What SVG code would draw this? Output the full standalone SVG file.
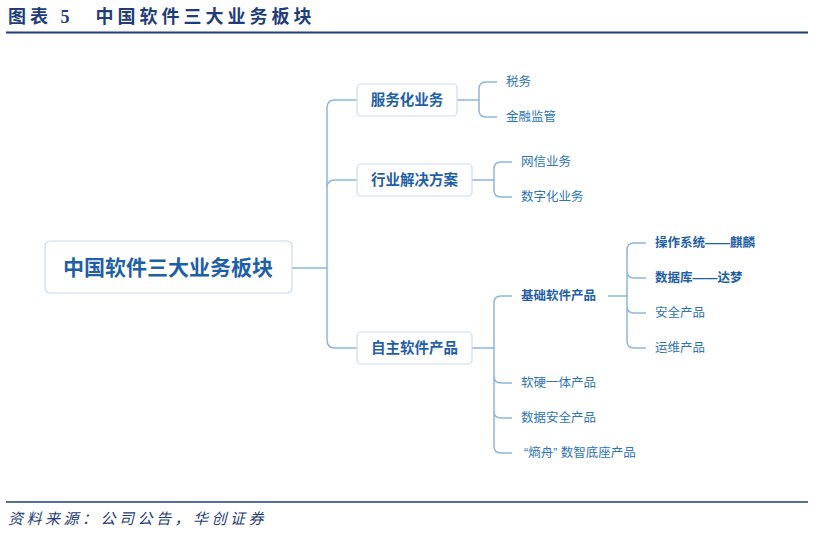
<svg xmlns="http://www.w3.org/2000/svg" width="814" height="534" viewBox="0 0 814 534">
<style>
text{font-family:"Liberation Sans","Noto Sans CJK SC",sans-serif;fill:#2E75B6}
.t{font-family:"Liberation Serif","Noto Sans CJK SC",serif;font-weight:bold;fill:#1F3D7A;font-size:18px;letter-spacing:4px}
.box{fill:#fff;stroke:#C9DCEF;stroke-width:1.2}
.l{fill:none;stroke:#8DB6E2;stroke-width:1.5}
.b{font-weight:bold;font-size:14.5px;fill:#1F5FA8}
.leaf{font-size:12.5px}
.lb{font-size:12.5px;font-weight:bold;fill:#1F5FA8}
</style>
<rect width="814" height="534" fill="#fff"/>
<text class="t" x="8" y="23">图表 5　中国软件三大业务板块</text>
<line x1="6" y1="32.5" x2="808" y2="32.5" stroke="#1F3D7A" stroke-width="2"/>
<line x1="6" y1="502" x2="808" y2="502" stroke="#1F3D7A" stroke-width="1.5"/>
<text x="8" y="524" style="font-family:'Liberation Serif','Noto Sans CJK SC',serif;font-style:italic;font-size:15px;letter-spacing:3.5px;fill:#1F3D7A">资料来源：公司公告，华创证券</text>
<g id="connectors">
<path class="l" d="M292 268H327M357 100H335Q327 100 327 108V340Q327 348 335 348H357M327 188Q327 180 335 180H357"/>
<path class="l" d="M457 100H479M497 82H486Q479 82 479 89V110Q479 117 486 117H497"/>
<path class="l" d="M472 180H494M512 162H501Q494 162 494 169V190Q494 197 501 197H512"/>
<path class="l" d="M472 348H494M512 296H501Q494 296 494 303V446Q494 453 501 453H512M494 376Q494 383 501 383H512M494 411Q494 418 501 418H512"/>
<path class="l" d="M608 296H627M646 243H634Q627 243 627 250V341Q627 348 634 348H646M627 271Q627 278 634 278H646M627 306Q627 313 634 313H646"/>
</g>
<g id="main"><rect class="box" x="45" y="241" width="247" height="52" rx="5"/><text x="168" y="275" text-anchor="middle" style="font-size:21px;font-weight:bold;fill:#1F5FA8">中国软件三大业务板块</text></g>
<g id="n1"><rect class="box" x="357" y="84" width="100" height="32" rx="4"/><text class="b" x="407" y="105" text-anchor="middle">服务化业务</text></g>
<g id="n2"><rect class="box" x="357" y="164" width="115" height="32" rx="4"/><text class="b" x="414.5" y="185" text-anchor="middle">行业解决方案</text></g>
<g id="n3"><rect class="box" x="357" y="332" width="115" height="32" rx="4"/><text class="b" x="414.5" y="353" text-anchor="middle">自主软件产品</text></g>
<g id="leaves">
<text class="leaf" x="506" y="86">税务</text>
<text class="leaf" x="506" y="121">金融监管</text>
<text class="leaf" x="521" y="166">网信业务</text>
<text class="leaf" x="521" y="201">数字化业务</text>
<text class="lb" x="521" y="300">基础软件产品</text>
<text class="leaf" x="521" y="387">软硬一体产品</text>
<text class="leaf" x="521" y="422">数据安全产品</text>
<text class="leaf" x="524" y="457">“熵舟” 数智底座产品</text>
<text class="lb" x="655" y="247">操作系统——麒麟</text>
<text class="lb" x="655" y="282">数据库——达梦</text>
<text class="leaf" x="655" y="317">安全产品</text>
<text class="leaf" x="655" y="352">运维产品</text>
</g>
</svg>
